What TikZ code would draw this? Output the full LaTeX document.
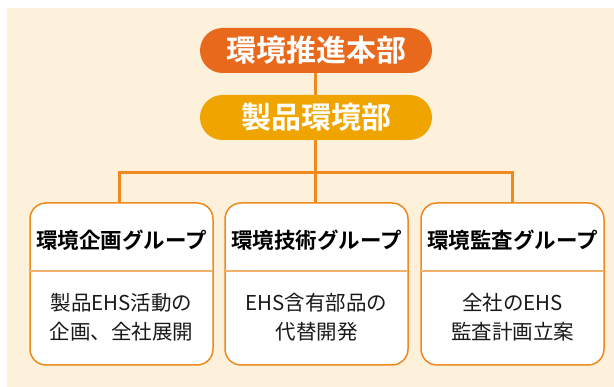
\documentclass[tikz,border=0pt]{standalone}
\usepackage{fontspec}
\setmainfont{Noto Sans CJK JP}
\newfontfamily\cjkb{Noto Sans CJK JP Bold}
\definecolor{bgcream}{HTML}{FDF1DC}
\definecolor{topor}{HTML}{E8691C}
\definecolor{gold}{HTML}{F0A400}
\definecolor{lineor}{HTML}{EE8A1E}
\definecolor{divor}{HTML}{F3B06A}
\tikzset{
  pill/.style={rounded corners=22.5pt, minimum width=232pt, minimum height=45pt, inner sep=0pt, text=white, font=\cjkb\fontsize{30}{32}\selectfont},
  grpbox/.style={draw=lineor, line width=1.5pt, fill=white, rounded corners=16pt},
  conn/.style={lineor, line width=3pt},
  ttl/.style={font=\cjkb\fontsize{21.5}{24}\selectfont, text=black},
  bodytxt/.style={font=\fontsize{20.5}{29}\selectfont, text=black!90, align=center}
}
\begin{document}
\begin{tikzpicture}[x=1pt,y=-1pt]
\useasboundingbox (0,0) rectangle (614,387);
\fill[bgcream] (7,8) rectangle (614,387);
% connectors
\node[pill, fill=topor] (hq) at (316,50.5) {環境推進本部};
\node[pill, fill=gold] (pe) at (316,117.5) {製品環境部};
\coordinate (hub) at (315,173);
\coordinate (l1) at (119,173);
\coordinate (l3) at (512,173);
\coordinate (t1) at (119,203);
\coordinate (t2) at (315,203);
\coordinate (t3) at (512,203);
\draw[conn] (hq.south -| hub) -- (pe.north -| hub);
\draw[conn] (pe.south -| hub) -- (hub);
\draw[conn] (t1) -- (l1) -- (l3) -- (t3);
\draw[conn] (hub) -- (t2);
% boxes
\foreach \n/\xa/\xb in {b1/30/213, b2/225/408, b3/421/604}{
  \draw[grpbox] (\xa,203) rectangle (\xb,365);
  \draw[divor, line width=1.2pt] (\xa,271) -- (\xb,271);
}
\node[ttl] (g1) at (121.5,240) {環境企画グループ};
\node[ttl] (g2) at (316.5,240) {環境技術グループ};
\node[ttl] (g3) at (512.5,240) {環境監査グループ};
\node[bodytxt] (d1) at (121.5,317.5) {製品EHS活動の\\企画、全社展開};
\node[bodytxt] (d2) at (316.5,317.5) {EHS含有部品の\\代替開発};
\node[bodytxt] (d3) at (512.5,317.5) {全社のEHS\\監査計画立案};
\end{tikzpicture}
\end{document}
